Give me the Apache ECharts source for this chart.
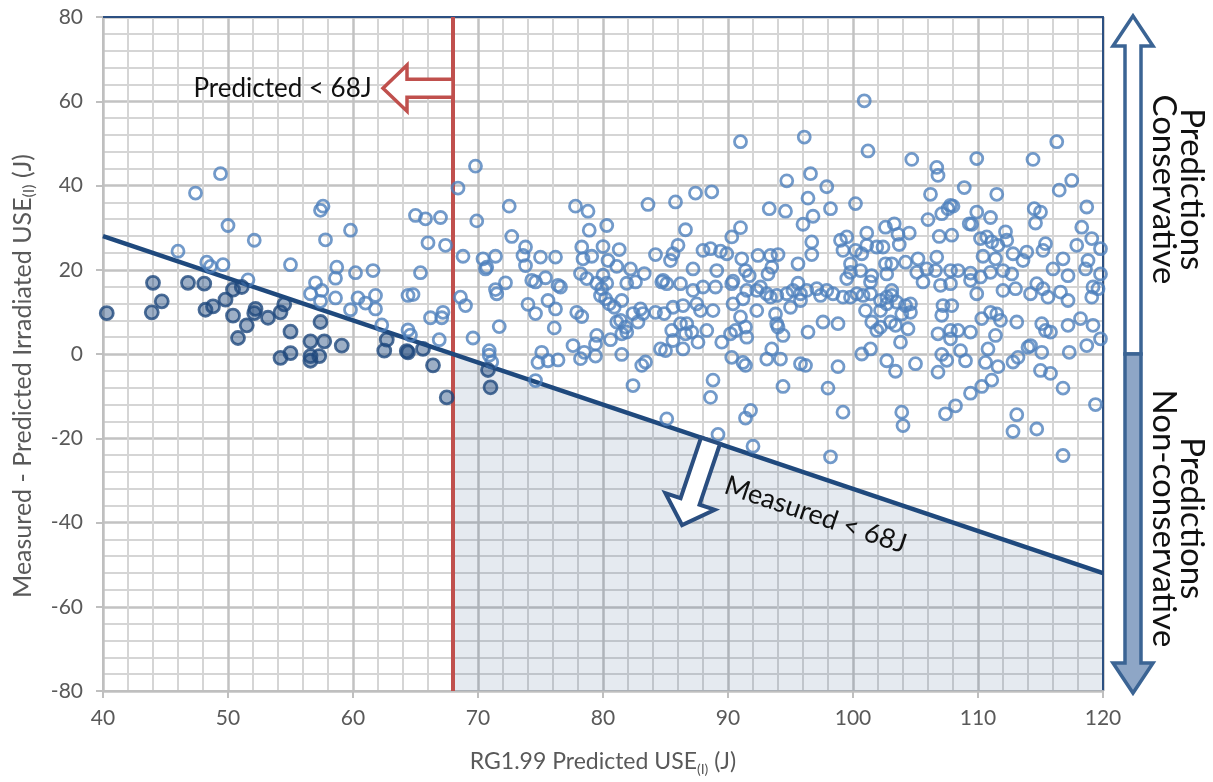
<!DOCTYPE html>
<html>
<head>
<meta charset="utf-8">
<script src="https://cdn.jsdelivr.net/npm/echarts@6/dist/echarts.min.js"></script>
<style>
html,body{margin:0;padding:0;background:#ffffff;}
#chart{width:1213px;height:782px;}
</style>
</head>
<body>
<div id="chart"></div>
<script>
// ---------------- data ----------------
const xRange = [40, 120];
const yRange = [-80, 80];
const xStep = 10;
const yStep = 20;
const limitJ = 68; // 68 J screening criterion

// Measured USE below 68J (filled markers)
const belowLimit = [
  [40.3,9.7],[44.0,16.9],[43.9,9.9],[44.7,12.5],[46.8,16.9],[48.1,16.7],[48.2,10.5],[48.8,11.3],
  [49.8,12.9],[50.4,15.3],[51.1,15.9],[50.4,9.1],[51.5,6.8],[50.8,3.8],[52.2,10.7],[52.1,9.7],
  [53.2,8.6],[54.2,9.9],[54.5,11.8],[55.0,5.3],[54.2,-0.9],[55.0,0.2],[57.4,7.6],[56.6,3.0],
  [57.7,3.0],[56.6,-0.5],[56.6,-1.6],[57.3,-0.5],[59.1,2.0],[62.7,3.4],[62.5,0.8],[64.3,0.7],
  [64.4,0.4],[65.6,1.2],[66.4,-2.7],[67.5,-10.3],[70.8,-3.8],[71.0,-7.9]
];

// Measured USE above 68J (open markers)
const aboveLimit = [
  // predicted < 68J
  [49.4,42.8],[47.4,38.2],[50.0,30.5],[52.1,27.0],[46.0,24.4],[57.4,34.1],[57.6,35.1],[57.8,27.1],
  [59.8,29.4],[65.0,32.9],[65.8,32.1],[67.0,32.4],[66.0,26.4],[67.4,25.8],[48.3,21.8],[48.6,20.8],
  [49.6,21.2],[51.6,17.6],[55.0,21.2],[57.0,16.9],[57.5,15.1],[56.6,14.3],[57.4,12.5],[58.6,13.3],
  [58.7,20.6],[58.6,18.0],[60.2,19.3],[61.6,19.8],[60.4,13.3],[61.0,12.1],[61.8,13.9],[61.8,10.7],
  [59.8,10.5],[62.3,6.9],[64.4,13.9],[64.8,14.1],[65.4,19.3],[64.4,5.7],[64.6,4.5],[66.9,3.4],
  [66.2,8.6],[67.2,9.9],[67.1,8.6],
  // 68 - 85
  [68.4,39.4],[69.8,44.6],[69.9,31.6],[68.8,23.2],[70.4,22.6],[70.7,20.6],[69.6,3.8],[68.6,13.5],
  [69.0,11.5],[70.9,0.8],[72.5,35.1],[72.7,27.9],[77.8,35.1],[78.8,33.9],[78.9,29.4],[80.3,30.5],
  [83.6,35.5],[70.6,20.2],[71.4,23.2],[73.8,25.4],[73.6,23.4],[73.8,21.0],[75.0,23.0],[76.2,23.0],
  [78.3,25.4],[78.4,22.6],[79.1,23.2],[80.0,25.5],[81.3,24.8],[80.4,22.2],[81.1,20.8],[78.2,19.1],
  [78.7,17.9],[72.2,16.9],[74.3,17.5],[74.6,17.1],[75.4,18.1],[82.2,20.2],[83.3,19.1],[84.2,23.6],
  [80.0,18.7],[80.3,16.8],[79.5,16.8],[81.9,16.8],[82.6,17.1],[84.7,17.1],[76.4,16.3],[76.6,15.9],
  [71.4,15.3],[71.5,14.3],[74.0,11.8],[74.6,9.6],[75.6,12.7],[76.2,10.7],[71.7,6.5],[70.9,-0.3],
  [71.1,-1.9],[76.1,6.2],[75.1,0.4],[74.8,-2.0],[75.6,-1.6],[76.4,-1.4],[74.6,-6.3],[77.9,9.9],
  [78.3,8.9],[79.9,15.5],[79.8,13.9],[80.2,13.1],[80.5,11.9],[80.9,11.1],[81.5,12.7],[81.4,8.0],
  [81.1,7.6],[81.8,6.4],[81.9,5.2],[81.5,4.8],[82.4,9.6],[83.0,10.7],[83.2,9.6],[82.8,7.6],
  [84.2,9.9],[84.9,9.6],[79.5,4.4],[79.4,2.4],[80.6,3.4],[77.6,2.0],[78.2,-1.1],[78.5,0.4],
  [79.4,-0.5],[81.5,-0.1],[83.1,-2.7],[83.4,-1.9],[82.4,-7.5],[84.6,1.2],[85.0,0.8],[85.1,-15.4],
  // 85 - 103 (upper)
  [100.9,60.1],[91.0,50.4],[96.1,51.5],[101.2,48.2],[94.7,41.1],[96.6,42.8],[97.9,39.7],[96.4,37.0],
  [93.3,34.5],[94.6,33.9],[98.2,34.5],[100.2,35.7],[85.8,36.1],[87.4,38.2],[88.7,38.5],[96.0,30.8],
  [96.8,32.7],[86.6,29.5],[91.0,30.0],[90.3,27.8],[96.7,26.6],[96.7,23.6],[86.0,25.8],[85.6,23.8],
  [85.4,22.2],[88.0,24.6],[88.6,25.0],[89.4,24.4],[89.9,23.8],[91.1,22.6],[92.4,23.4],[93.4,23.4],
  [94.0,23.6],[87.2,20.2],[89.1,19.8],[90.4,17.3],[91.4,19.8],[91.7,18.6],[93.5,20.6],[93.2,19.0],
  [95.6,21.4],[99.0,27.0],[99.5,27.8],[99.2,24.6],[101.1,28.7],[100.2,24.6],[100.7,23.8],[101.1,25.8],
  [101.9,25.4],[99.8,21.4],[99.5,17.9],[99.8,19.4],[100.6,19.8],[101.5,18.6],[101.4,17.1],[102.7,19.0],
  [84.8,17.5],[95.6,16.8],
  // 85 - 103 (lower)
  [85.1,16.7],[86.2,16.7],[87.2,15.1],[88.0,15.9],[89.0,15.9],[90.3,16.7],[91.5,15.1],[92.3,15.1],
  [92.6,15.9],[93.1,14.3],[93.4,13.5],[93.9,13.9],[94.7,14.3],[95.2,15.1],[95.8,14.3],[96.3,15.1],
  [97.1,15.5],[97.4,13.9],[97.9,15.1],[98.4,14.3],[99.2,13.5],[99.8,13.5],[100.3,14.3],[100.8,13.9],
  [101.4,14.3],[102.2,12.7],[102.7,13.5],[85.6,11.1],[86.4,11.5],[87.5,11.9],[87.8,10.3],[88.8,10.3],
  [90.4,11.9],[91.2,13.1],[92.3,10.3],[93.8,9.5],[95.0,11.1],[95.8,12.7],[101.0,10.3],[102.2,10.3],
  [102.7,11.9],[85.5,5.6],[86.2,7.2],[86.7,7.2],[87.1,5.2],[86.6,4.8],[88.3,5.6],[89.5,2.8],
  [90.2,4.8],[90.6,5.6],[91.0,8.8],[91.4,6.4],[91.5,4.0],[93.9,7.2],[94.0,6.4],[94.4,4.4],
  [96.4,5.2],[97.6,7.6],[98.8,7.2],[101.5,7.6],[101.9,5.6],[102.2,6.4],[85.6,3.2],[86.4,1.2],
  [87.6,2.8],[90.3,-0.8],[91.2,-2.0],[91.4,-2.7],[93.1,-1.2],[93.5,1.2],[94.2,-1.2],[95.8,-2.3],
  [96.2,-2.7],[98.8,-3.0],[100.7,0.0],[101.4,1.2],[102.7,-1.6],[88.8,-6.2],[88.6,-10.3],[94.4,-7.7],
  [98.0,-8.1],[99.2,-13.8],[91.8,-13.4],[91.4,-15.2],[89.2,-19.1],[92.0,-21.9],[98.2,-24.4],
  // 102 - 120 (upper)
  [116.3,50.4],[104.7,46.2],[109.9,46.4],[114.4,46.2],[106.7,44.3],[106.8,42.4],[117.5,41.2],[116.5,38.9],
  [108.9,39.5],[106.2,37.9],[111.5,37.9],[118.7,34.9],[107.8,35.3],[107.1,33.3],[107.6,34.5],[108.0,35.1],
  [106.0,31.9],[109.9,33.7],[109.3,30.9],[109.5,30.8],[111.0,32.4],[114.5,34.5],[115.0,33.7],[114.6,31.1],
  [118.3,30.1],[102.6,30.1],[103.3,30.9],[104.5,28.7],[103.6,28.4],[103.7,26.0],[102.4,25.4],[106.9,27.9],
  [107.9,28.2],[110.2,27.4],[110.7,27.8],[111.1,26.6],[111.6,25.8],[112.2,29.0],[112.3,27.0],[110.4,23.2],
  [111.4,22.6],[112.8,23.8],[113.9,24.2],[113.6,22.2],[115.4,26.2],[115.2,24.6],[117.9,25.8],[119.1,27.4],
  [119.8,25.0],[116.8,22.6],[118.8,22.2],[118.6,20.2],[116.0,20.2],[117.2,18.6],[104.2,21.8],[105.2,22.6],
  [106.7,23.0],[105.9,20.2],[105.1,19.4],[106.6,19.8],[107.8,19.8],[108.4,19.8],[109.4,19.2],[110.2,18.3],
  [111.0,19.4],[112.0,19.8],[112.7,19.0],[119.8,19.0],[103.1,15.1],[102.6,21.4],[103.1,21.4],
  // 102 - 120 (lower)
  [105.6,17.1],[107.0,16.3],[107.8,16.7],[109.9,14.3],[109.4,17.5],[112.0,15.1],[113.0,15.5],[114.2,14.3],
  [114.7,16.7],[115.2,15.5],[115.6,13.5],[116.6,14.7],[117.2,12.7],[119.1,13.5],[119.6,15.5],[119.2,15.9],
  [103.1,13.9],[103.5,12.3],[104.2,11.5],[104.6,11.9],[104.6,9.9],[103.9,9.5],[103.0,7.6],[103.4,6.8],
  [104.4,6.0],[103.8,2.8],[103.4,-4.1],[105.0,-2.3],[107.2,11.5],[107.9,11.5],[107.1,9.2],[106.8,4.8],
  [107.8,5.6],[108.4,5.6],[109.4,5.2],[107.8,3.6],[107.1,-0.1],[107.5,-1.5],[106.8,-4.3],[108.6,0.8],
  [109.0,-1.6],[110.3,8.4],[111.0,9.9],[111.5,9.5],[111.8,8.0],[113.1,7.6],[111.4,4.4],[110.8,1.2],
  [110.6,-2.0],[111.6,-3.0],[111.1,-6.2],[110.3,-7.7],[109.4,-9.3],[107.4,-14.2],[108.2,-12.3],[103.9,-13.8],
  [104.0,-17.0],[112.8,-1.9],[113.2,-0.8],[114.0,1.6],[114.2,2.0],[115.1,0.4],[115.0,-3.9],[115.8,-4.6],
  [116.8,-8.1],[115.1,7.2],[115.4,5.6],[115.8,5.2],[117.2,6.8],[118.2,8.4],[119.2,6.8],[118.7,2.0],
  [117.3,0.4],[119.8,3.6],[119.4,-12.0],[113.1,-14.4],[112.8,-18.4],[114.7,-17.8],[116.8,-24.1]
];

// limit line: Measured = 68J  ->  (Measured - Predicted) = 68 - Predicted
const limitLine = [[xRange[0], limitJ - xRange[0]], [xRange[1], limitJ - xRange[1]]];
// non-conservative & measured<68J region (predicted >= 68)
const shadeEdge = [[limitJ, 0], [xRange[1], limitJ - xRange[1]]];
const predLine = [[limitJ, yRange[0]], [limitJ, yRange[1]]];

// ---------------- styles ----------------
const FONT = 'Lato';
const GREY = '#595959';
const DARKBLUE = '#1F497D';
const OPENBLUE = '#4F81BD';
const RED = '#C0504D';

const chart = echarts.init(document.getElementById('chart'), null, {renderer: 'canvas'});

function titleRich(size) {
  return {
    a: {fontFamily: FONT, fontSize: size, color: GREY, lineHeight: 28},
    s: {fontFamily: FONT, fontSize: Math.round(size * 0.62), color: GREY, lineHeight: 28, verticalAlign: 'bottom'}
  };
}

const option = {
  animation: false,
  backgroundColor: '#ffffff',
  grid: {left: 103, right: 110, top: 17, bottom: 91, containLabel: false},
  xAxis: [{
    type: 'value', min: xRange[0], max: xRange[1], interval: xStep,
    name: '{a|RG1.99 Predicted USE}{s|(I)}{a| (J)}',
    nameLocation: 'middle', nameGap: 57,
    nameTextStyle: {rich: titleRich(23)},
    axisLine: {show: true, onZero: false, lineStyle: {color: '#BFBFBF', width: 2}},
    axisTick: {show: true, inside: false, length: 7, lineStyle: {color: '#BFBFBF', width: 2}},
    axisLabel: {color: GREY, fontFamily: FONT, fontSize: 21, margin: 17},
    splitLine: {show: true, lineStyle: {color: '#C2C2C2', width: 2.5}},
    minorTick: {show: false, splitNumber: 5},
    minorSplitLine: {show: true, lineStyle: {color: '#D5D5D5', width: 2}}
  }, {
    type: 'value', min: xRange[0], max: xRange[1], position: 'top',
    axisLine: {show: true, onZero: false, lineStyle: {color: '#2C5082', width: 2}},
    axisTick: {show: false}, axisLabel: {show: false}, splitLine: {show: false}
  }],
  yAxis: [{
    type: 'value', min: yRange[0], max: yRange[1], interval: yStep,
    name: '{a|Measured - Predicted Irradiated USE}{s|(I)}{a| (J)}',
    nameLocation: 'middle', nameGap: 66, nameRotate: 90,
    nameTextStyle: {rich: titleRich(25), padding: [0, 44, 0, 0]},
    axisLine: {show: true, onZero: false, lineStyle: {color: '#BFBFBF', width: 2}},
    axisTick: {show: true, inside: false, length: 7, lineStyle: {color: '#BFBFBF', width: 2}},
    axisLabel: {color: GREY, fontFamily: FONT, fontSize: 21, margin: 20},
    splitLine: {show: true, lineStyle: {color: '#C2C2C2', width: 2.5}},
    minorTick: {show: false, splitNumber: 5},
    minorSplitLine: {show: true, lineStyle: {color: '#D5D5D5', width: 2}}
  }, {
    type: 'value', min: yRange[0], max: yRange[1], position: 'right',
    axisLine: {show: true, onZero: false, lineStyle: {color: '#2C5082', width: 2}},
    axisTick: {show: false}, axisLabel: {show: false}, splitLine: {show: false}
  }],
  series: [{
    name: 'shade', type: 'line', data: shadeEdge, symbol: 'none', silent: true,
    lineStyle: {width: 0}, areaStyle: {origin: 'start', color: 'rgba(31,73,125,0.17)'}, z: 2
  }, {
    name: 'predicted68', type: 'line', data: predLine, symbol: 'none', silent: true,
    lineStyle: {color: RED, width: 4}, z: 3
  }, {
    name: 'measured68', type: 'line', data: limitLine, symbol: 'none', silent: true,
    lineStyle: {color: DARKBLUE, width: 4.5}, z: 3
  }, {
    name: 'above', type: 'scatter', data: aboveLimit, symbol: 'circle', symbolSize: 12,
    itemStyle: {color: 'rgba(255,255,255,0)', borderColor: OPENBLUE, borderWidth: 2.8}, z: 4
  }, {
    name: 'below', type: 'scatter', data: belowLimit, symbol: 'circle', symbolSize: 13,
    itemStyle: {color: 'rgba(31,73,125,0.55)', borderColor: DARKBLUE, borderWidth: 2.8}, z: 5
  }]
};
chart.setOption(option);

// ---------------- annotations (anchored to data coordinates) ----------------
function px(p) { return chart.convertToPixel({xAxisIndex: 0, yAxisIndex: 0}, p); }

const g = [];

// red hollow arrow pointing left from the 68J line
(function () {
  const tail = px([limitJ, 63.1]);
  const tip = px([62.4, 63.1]);
  const headLen = 24, shaftH = 9, headH = 23;
  const bx = tip[0] + headLen, cy = tail[1];
  g.push({
    type: 'polygon', z: 20,
    shape: {points: [[tail[0], cy - shaftH], [bx, cy - shaftH], [bx, cy - headH], [tip[0], cy],
      [bx, cy + headH], [bx, cy + shaftH], [tail[0], cy + shaftH]]},
    style: {fill: '#ffffff', stroke: RED, lineWidth: 3.5, lineJoin: 'miter'}
  });
  const t = px([61.5, 63.1]);
  g.push({type: 'text', z: 21, x: t[0], y: t[1],
    style: {text: 'Predicted < 68J', font: '26px ' + FONT, fill: '#111', align: 'right', verticalAlign: 'middle'}});
})();

// white arrow pointing down-left, perpendicular to the measured 68J line
(function () {
  const a = px(limitLine[0]), b = px(limitLine[1]);
  const dx = b[0] - a[0], dy = b[1] - a[1];
  const L = Math.hypot(dx, dy);
  const ux = dx / L, uy = dy / L;         // along line
  const nx = -uy, ny = ux;                // perpendicular (down-left)
  const s = px([88.6, limitJ - 88.6]);
  const total = 89, headLen = 25, sw = 10, hw = 26;
  const P = (d, w) => [s[0] + nx * d + ux * w, s[1] + ny * d + uy * w];
  g.push({
    type: 'polygon', z: 20,
    shape: {points: [P(0, -sw), P(total - headLen, -sw), P(total - headLen, -hw), P(total, 0),
      P(total - headLen, hw), P(total - headLen, sw), P(0, sw)]},
    style: {fill: '#ffffff', stroke: '#2A4E80', lineWidth: 4, lineJoin: 'miter'}
  });
  const t = px([97.0, -38.2]);
  g.push({type: 'text', z: 21, x: t[0], y: t[1], rotation: -Math.atan2(dy, dx),
    style: {text: 'Measured < 68J', font: '27px ' + FONT, fill: '#111', align: 'center', verticalAlign: 'middle'}});
})();

// double arrow on the right: conservative / non-conservative
(function () {
  const top = px([xRange[1], yRange[1]]);
  const mid = px([xRange[1], 0]);
  const bot = px([xRange[1], yRange[0]]);
  const cx = top[0] + 30;
  const sw = 8, hw = 20, hl = 30;
  const y0 = top[1] - 1, y1 = mid[1], y2 = bot[1] + 2;
  g.push({
    type: 'polygon', z: 20,
    shape: {points: [[cx, y0], [cx + hw, y0 + hl], [cx + sw, y0 + hl], [cx + sw, y1], [cx - sw, y1],
      [cx - sw, y0 + hl], [cx - hw, y0 + hl]]},
    style: {fill: '#ffffff', stroke: '#3B6494', lineWidth: 3.5, lineJoin: 'miter'}
  });
  g.push({
    type: 'polygon', z: 20,
    shape: {points: [[cx - sw, y1], [cx + sw, y1], [cx + sw, y2 - hl], [cx + hw, y2 - hl], [cx, y2],
      [cx - hw, y2 - hl], [cx - sw, y2 - hl]]},
    style: {fill: '#8EA6C6', stroke: '#3B6494', lineWidth: 3.5, lineJoin: 'miter'}
  });
  const t1 = px([xRange[1], 39.1]);
  const t2 = px([xRange[1], -39]);
  g.push({type: 'text', z: 21, x: cx + 45, y: t1[1], rotation: -Math.PI / 2,
    style: {text: 'Predictions\nConservative', font: '33px ' + FONT, fill: '#111', align: 'center',
      verticalAlign: 'middle', lineHeight: 28}});
  g.push({type: 'text', z: 21, x: cx + 45, y: t2[1], rotation: -Math.PI / 2,
    style: {text: 'Predictions\nNon-conservative', font: '33px ' + FONT, fill: '#111', align: 'center',
      verticalAlign: 'middle', lineHeight: 28}});
})();

chart.setOption({graphic: {elements: g}});
</script>
</body>
</html>
